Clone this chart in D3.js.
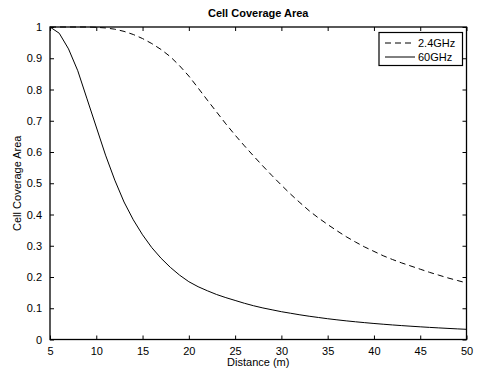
<!DOCTYPE html>
<html><head><meta charset="utf-8">
<script src="https://cdn.jsdelivr.net/npm/d3@7"></script>
<style>body{margin:0;background:#fff}svg{font-family:"Liberation Sans",Arial,Helvetica,sans-serif}</style>
</head><body>
<svg id="c" width="477" height="371"></svg>
<script>
const distance = d3.range(5, 51);
const ghz24 = [1.0,1.0,1.0,1.0,1.0,0.999,0.997,0.993,0.986,0.976,0.963,0.947,0.928,0.905,0.876,0.843,0.805,0.766,0.728,0.690,0.654,0.620,0.587,0.555,0.524,0.494,0.465,0.438,0.412,0.389,0.368,0.348,0.329,0.312,0.296,0.282,0.268,0.256,0.245,0.235,0.225,0.215,0.206,0.197,0.189,0.181];
const ghz60 = [1.0,0.98,0.93,0.86,0.77,0.68,0.59,0.51,0.44,0.383,0.335,0.294,0.260,0.231,0.206,0.185,0.169,0.156,0.144,0.134,0.125,0.116,0.108,0.101,0.095,0.089,0.084,0.079,0.0745,0.0705,0.0665,0.063,0.0597,0.0567,0.0539,0.0513,0.0489,0.0466,0.0445,0.0425,0.0406,0.0388,0.0371,0.0355,0.034,0.0326];
const xTicks = [5,10,15,20,25,30,35,40,45,50];
const yTicks = [0,0.1,0.2,0.3,0.4,0.5,0.6,0.7,0.8,0.9,1];
const seriesNames = ["2.4GHz","60GHz"];
const chartTitle = "Cell Coverage Area";
const xLabel = "Distance (m)";
const yLabel = "Cell Coverage Area";

const svg = d3.select("#c");
const L=50, R=466.5, T=27, B=339.5;
const x = d3.scaleLinear().domain([5,50]).range([L,R]);
const y = d3.scaleLinear().domain([0,1]).range([B,T]);
const fmt = d => String(d);

const tl = 4;
svg.append("g").attr("transform",`translate(0,${B})`)
  .call(d3.axisBottom(x).tickValues(xTicks).tickFormat(fmt).tickSizeInner(-tl).tickSizeOuter(0).tickPadding(8))
  .call(g=>{g.select(".domain").remove();g.selectAll("text").attr("font-size",11).attr("fill","#000").attr("font-family","Liberation Sans, Arial");});
svg.append("g").attr("transform",`translate(0,${T})`)
  .call(d3.axisTop(x).tickValues(xTicks).tickFormat("").tickSizeInner(-tl).tickSizeOuter(0))
  .call(g=>g.select(".domain").remove());
svg.append("g").attr("transform",`translate(${L},0)`)
  .call(d3.axisLeft(y).tickValues(yTicks).tickFormat(fmt).tickSizeInner(-tl).tickSizeOuter(0).tickPadding(8))
  .call(g=>{g.select(".domain").remove();g.selectAll("text").attr("font-size",11).attr("fill","#000").attr("font-family","Liberation Sans, Arial");});
svg.append("g").attr("transform",`translate(${R},0)`)
  .call(d3.axisRight(y).tickValues(yTicks).tickFormat("").tickSizeInner(-tl).tickSizeOuter(0))
  .call(g=>g.select(".domain").remove());

const line = d3.line().x((d,i)=>x(distance[i])).y(d=>y(d));
svg.append("path").datum(ghz24).attr("d",line).attr("fill","none").attr("stroke","#000").attr("stroke-width",1).attr("stroke-dasharray","6,4");
svg.append("path").datum(ghz60).attr("d",line).attr("fill","none").attr("stroke","#000").attr("stroke-width",1);

svg.append("rect").attr("x",L).attr("y",T).attr("width",R-L).attr("height",B-T)
  .attr("fill","none").attr("stroke","#000").attr("stroke-width",1.3);

svg.append("text").attr("x",(L+R)/2).attr("y",17).attr("text-anchor","middle").attr("font-size",11).attr("font-weight","bold").text(chartTitle);
svg.append("text").attr("x",(L+R)/2).attr("y",366).attr("text-anchor","middle").attr("font-size",11).text(xLabel);
svg.append("text").attr("transform",`translate(21,${(T+B)/2}) rotate(-90)`).attr("text-anchor","middle").attr("font-size",11).text(yLabel);

const lg = svg.append("g");
lg.append("rect").attr("x",379).attr("y",32.5).attr("width",83.5).attr("height",33).attr("fill","#fff").attr("stroke","#000").attr("stroke-width",1.2);
seriesNames.forEach((n,i)=>{
  const yy = 43 + i*14;
  lg.append("line").attr("x1",385).attr("x2",415).attr("y1",yy).attr("y2",yy).attr("stroke","#000").attr("stroke-width",1).attr("stroke-dasharray",i===0?"6,4":null);
  lg.append("text").attr("x",418).attr("y",yy+4).attr("font-size",11).text(n);
});
</script>
</body></html>
